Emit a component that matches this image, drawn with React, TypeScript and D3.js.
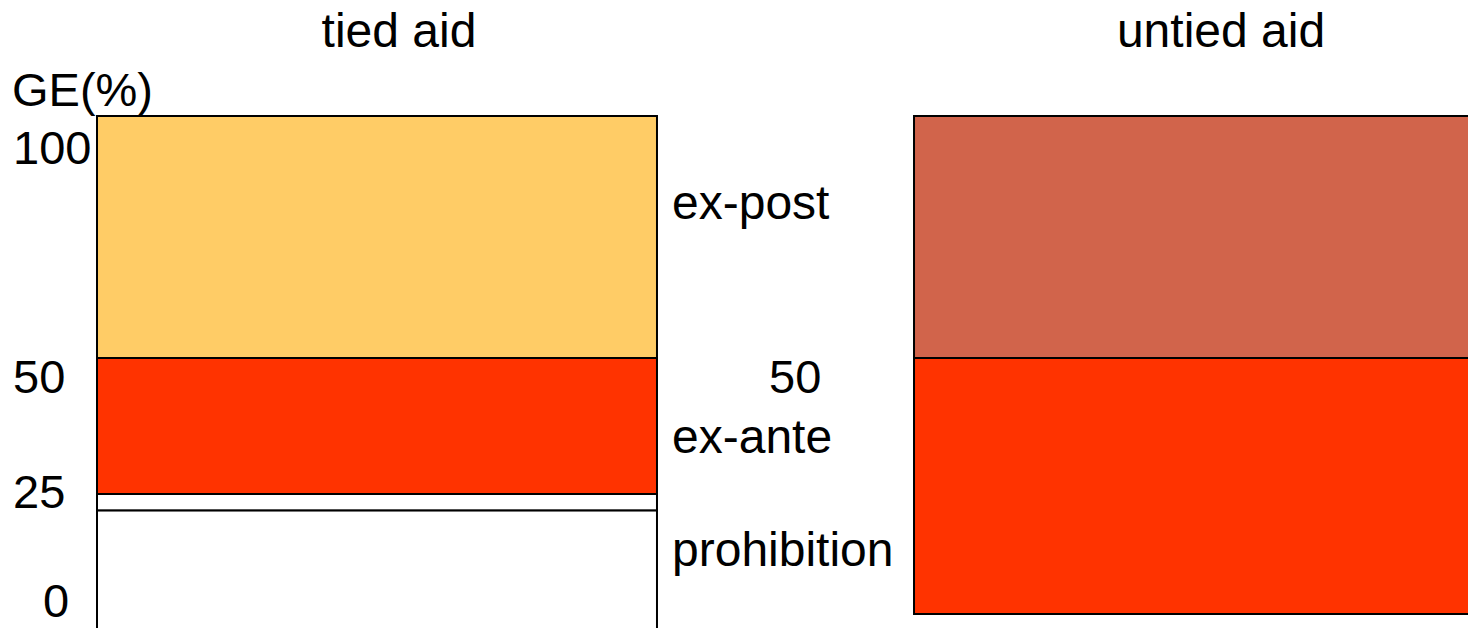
import React from 'react'
import * as d3 from 'd3'

// categories (the two bars)
const bars = ['tied aid', 'untied aid']

// stacked segments per bar: [from, to] in GE(%)
const tiedSegments = [
  { name: 'prohibition', from: 0, to: 22, color: '#FFFFFF' },
  { name: 'gap', from: 22, to: 25, color: '#FFFFFF' },
  { name: 'ex-ante', from: 25, to: 50, color: '#FF3300' },
  { name: 'ex-post', from: 50, to: 100, color: '#FFCC66' }
]
const untiedSegments = [
  { name: 'ex-ante', from: 0, to: 50, color: '#FF3300' },
  { name: 'ex-post', from: 50, to: 100, color: '#D1644B' }
]

// axis tick labels
const tickValues = [0, 25, 50, 100]

// segment labels, anchored on the label scale (GE %)
const segmentLabels = [
  { text: 'ex-post', at: 88 },
  { text: 'ex-ante', at: 37 },
  { text: 'prohibition', at: 12.3 }
]
const midLabel = { text: '50', at: 50 }

export default function App() {
  const width = 1468
  const height = 628
  const font = '"Liberation Sans", Arial, sans-serif'

  // x: two bands
  const x = d3
    .scaleBand()
    .domain(bars)
    .range([97, 1474])
    .paddingInner(0.3146)
    .paddingOuter(0)

  // the sketch is not drawn to scale, so each bar has its own piecewise scale
  const yTied = d3.scaleLinear().domain([0, 50, 100]).range([630, 358, 116])
  const yUntied = d3.scaleLinear().domain([0, 50, 100]).range([614, 358, 116])

  // tick labels sit on their own linear scale (baselines)
  const yLabel = d3.scaleLinear().domain([0, 100]).range([622, 164])

  const bw = x.bandwidth()
  const tiedX = x('tied aid')
  const untiedX = x('untied aid')

  return (
    <svg
      width={width}
      height={height}
      style={{ position: 'absolute', left: 0, top: 0, background: '#fff' }}
      fontFamily={font}
    >
      {/* titles */}
      {bars.map((b, i) => (
        <text
          key={b}
          x={x(b) + bw / 2 + (i === 0 ? 22 : 27)}
          y={47}
          fontSize={48}
          textAnchor="middle"
          fill="#000"
        >
          {b}
        </text>
      ))}

      {/* axis title */}
      <text x={12} y={106} fontSize={47} fill="#000">
        GE(%)
      </text>

      {/* tied aid bar */}
      {tiedSegments.map((s, i) => (
        <rect
          key={'t' + i}
          x={tiedX}
          y={yTied(s.to)}
          width={bw}
          height={yTied(s.from) - yTied(s.to)}
          fill={s.color}
          stroke="#000"
          strokeWidth={2}
        />
      ))}

      {/* untied aid bar */}
      {untiedSegments.map((s, i) => (
        <rect
          key={'u' + i}
          x={untiedX}
          y={yUntied(s.to)}
          width={bw}
          height={yUntied(s.from) - yUntied(s.to)}
          fill={s.color}
          stroke="#000"
          strokeWidth={2}
        />
      ))}

      {/* tick labels (keep the 0 inside the picture) */}
      {tickValues.map(v => (
        <text
          key={v}
          x={v === 0 ? 43 : 13}
          y={Math.min(yLabel(v), 617)}
          fontSize={47}
          fill="#000"
        >
          {v}
        </text>
      ))}

      {/* segment labels */}
      {segmentLabels.map(l => (
        <text key={l.text} x={672} y={yLabel(l.at)} fontSize={48} fill="#000">
          {l.text}
        </text>
      ))}
      <text x={769} y={yLabel(midLabel.at)} fontSize={47} fill="#000">
        {midLabel.text}
      </text>
    </svg>
  )
}
